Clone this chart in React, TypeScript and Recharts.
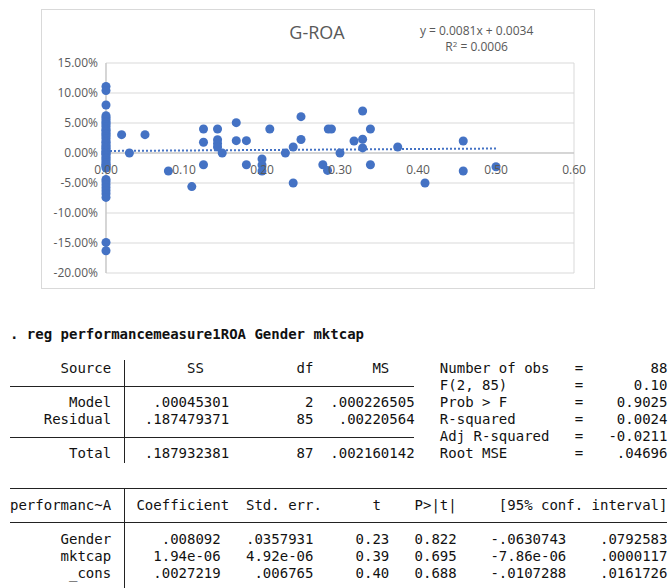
import {
  ScatterChart,
  Scatter,
  XAxis,
  YAxis,
  ZAxis,
  CartesianGrid,
  ReferenceLine,
  ReferenceDot,
} from "recharts";

// ROA (%) of firms with no women on the board (gender share = 0)
const zeroShareRoa = [
  11.1, 10.4, 8.0, 6.2, 5.9, 5.6, 5.2, 5.0, 4.7, 4.4, 4.0, 3.8, 3.5, 3.2, 3.0,
  2.7, 2.4, 2.0, 1.8, 1.5, 1.2, 1.0, 0.8, 0.5, 0.3, 0.0, 0.0, -0.2, -0.5, -0.8,
  -1.0, -1.3, -1.6, -1.9, -2.0, -2.2, -2.5, -4.4, -4.8, -5.3, -5.8, -6.3, -6.8,
  -7.4, -14.9, -16.3,
];

// firms with a non-zero gender share
const genderShare = [
  0.02, 0.03, 0.05, 0.08, 0.11, 0.125, 0.125, 0.125, 0.143, 0.143, 0.143, 0.143,
  0.149, 0.167, 0.167, 0.18, 0.18, 0.2, 0.2, 0.2, 0.21, 0.23, 0.24, 0.24, 0.25,
  0.25, 0.278, 0.284, 0.285, 0.289, 0.3, 0.318, 0.329, 0.329, 0.329, 0.339,
  0.339, 0.374, 0.409, 0.458, 0.458, 0.5,
];
const genderRoa = [
  3.06, 0.0, 3.06, -3.0, -5.6, 4.0, 1.8, -1.95, 4.0, 2.2, 1.6, 1.0, 0.0, 5.06,
  2.06, 2.06, -1.95, -1.0, -2.0, -3.0, 4.0, 0.0, 1.0, -5.0, 6.06, 2.25, -1.95,
  -2.9, 4.0, 4.0, 0.0, 2.0, 2.3, 0.85, 7.0, 4.0, -1.95, 1.0, -5.0, 2.0, -3.0,
  -2.3,
];

const xTicks = [0, 0.1, 0.2, 0.3, 0.4, 0.5, 0.6];
const yTicks = [0.15, 0.1, 0.05, 0, -0.05, -0.1, -0.15, -0.2];

const trendSlope = 0.0081;
const trendIntercept = 0.0034;
const trendR2 = "0.0006";

// Stata output
const anovaSources = ["Model", "Residual", "Total"];
const anovaSS = [".00045301", ".187479371", ".187932381"];
const anovaDf = ["2", "85", "87"];
const anovaMS = [".000226505", ".00220564", ".002160142"];
const fitLabels = ["Number of obs", "F(2, 85)", "Prob > F", "R-squared", "Adj R-squared", "Root MSE"];
const fitValues = ["88", "0.10", "0.9025", "0.0024", "-0.0211", ".04696"];
const coefVars = ["Gender", "mktcap", "_cons"];
const coefs = [".008092", "1.94e-06", ".0027219"];
const stdErrs = [".0357931", "4.92e-06", ".006765"];
const tStats = ["0.23", "0.39", "0.40"];
const pValues = ["0.822", "0.695", "0.688"];
const ciLow = ["-.0630743", "-7.86e-06", "-.0107288"];
const ciHigh = [".0792583", ".0000117", ".0161726"];

const points = [
  ...zeroShareRoa.map((r) => ({ x: 0, y: r / 100 })),
  ...genderShare.map((g, i) => ({ x: g, y: genderRoa[i] / 100 })),
];
const trendEnd = Math.max(...genderShare);

const BLUE = "#4472C4";
const GREY = "#595959";

const pad = (s: string, n: number) => s.padStart(n);
const fit = (i: number) => "   " + fitLabels[i].padEnd(16) + "=" + pad(fitValues[i], 10);
const blank48 = " ".repeat(48);

const stataRows: [number, string][] = [
  [2, "      Source         SS           df       MS   " + fit(0)],
  [3, blank48 + fit(1)],
  [4, pad(anovaSources[0], 12) + "  " + pad(anovaSS[0], 12) + pad(anovaDf[0], 10) + pad(anovaMS[0], 12) + fit(2)],
  [5, pad(anovaSources[1], 12) + "  " + pad(anovaSS[1], 12) + pad(anovaDf[1], 10) + pad(anovaMS[1], 12) + fit(3)],
  [6, blank48 + fit(4)],
  [7, pad(anovaSources[2], 12) + "  " + pad(anovaSS[2], 12) + pad(anovaDf[2], 10) + pad(anovaMS[2], 12) + fit(5)],
  [10, "performanc~A   Coefficient  Std. err.      t    P>|t|     [95% conf. interval]"],
  ...coefVars.map(
    (v, i) =>
      [
        12 + i,
        pad(v, 12) + "  " + pad(coefs[i], 11) + pad(stdErrs[i], 11) + pad(tStats[i], 9) +
          pad(pValues[i], 8) + pad(ciLow[i], 13) + pad(ciHigh[i], 12),
      ] as [number, string]
  ),
];

const ROW0 = 334.3;
const LH = 17.1;
const X0 = 10;
const CW = 8.42;
const rowY = (n: number) => ROW0 + n * LH;
const barX = X0 + 13.5 * CW;

const equation = `y = ${trendSlope}x + ${trendIntercept}`;

const eqStyle = {
  position: "absolute" as const,
  left: 396.6,
  width: 160,
  textAlign: "center" as const,
  fontFamily: "'Open Sans'",
  fontSize: 12,
  lineHeight: "16.5px",
  color: GREY,
};

const App = () => {
  return (
    <div
      style={{
        position: "absolute",
        left: 0,
        top: 0,
        width: 669,
        height: 588,
        background: "#fff",
        overflow: "hidden",
      }}
    >
      <div
        style={{
          position: "absolute",
          left: 41,
          top: 9,
          width: 554,
          height: 280,
          fontFamily: "'Open Sans'",
        }}
      >
        <ScatterChart
          width={554}
          height={280}
          margin={{ top: 54, right: 21, bottom: 16, left: 0 }}
          style={{ fontFamily: "'Open Sans'" }}
        >
          <CartesianGrid stroke="#d9d9d9" />
          <XAxis
            type="number"
            dataKey="x"
            domain={[0, 0.6]}
            ticks={xTicks}
            tick={false}
            tickLine={false}
            axisLine={false}
            height={0}
          />
          <YAxis
            type="number"
            dataKey="y"
            domain={[-0.2, 0.15]}
            ticks={yTicks}
            interval={0}
            width={65}
            tickLine={false}
            axisLine={{ stroke: "#bfbfbf" }}
            tick={{ fill: GREY, fontSize: 12 }}
            tickFormatter={(v: number) => (v * 100).toFixed(2) + "%"}
          />
          <ZAxis range={[58, 58]} />
          <ReferenceLine y={0} stroke="#bfbfbf" />
          {xTicks.map((t) => (
            <ReferenceDot
              key={t}
              x={t}
              y={0}
              r={1}
              fill="none"
              stroke="none"
              label={{ value: t.toFixed(2), position: "bottom", offset: 11, fill: GREY, fontSize: 12 }}
            />
          ))}
          <ReferenceLine
            segment={[
              { x: 0, y: trendIntercept },
              { x: trendEnd, y: trendIntercept + trendSlope * trendEnd },
            ]}
            stroke={BLUE}
            strokeWidth={2}
            strokeDasharray="2 2"
          />
          <Scatter data={points} fill={BLUE} isAnimationActive={false} />
        </ScatterChart>
      </div>
      <div
        style={{
          position: "absolute",
          left: 41,
          top: 9,
          width: 554,
          height: 280,
          border: "1px solid #d9d9d9",
          boxSizing: "border-box",
          pointerEvents: "none",
        }}
      />
      <div
        style={{
          position: "absolute",
          left: 257,
          top: 21.7,
          width: 120,
          textAlign: "center",
          fontFamily: "'Open Sans'",
          fontSize: 18,
          lineHeight: "20px",
          color: GREY,
        }}
      >
        G-ROA
      </div>
      <div style={{ ...eqStyle, top: 22.6 }}>{equation}</div>
      <div style={{ ...eqStyle, top: 39.4 }}>
        R<span style={{ fontSize: 8, position: "relative", top: -4 }}>2</span>
        {` = ${trendR2}`}
      </div>

      <div
        style={{
          position: "absolute",
          left: X0,
          top: rowY(0) - LH / 2,
          fontFamily: "'DejaVu Sans Mono'",
          fontSize: 14,
          lineHeight: LH + "px",
          whiteSpace: "pre",
          fontWeight: "bold",
          color: "#111",
        }}
      >
        . reg performancemeasure1ROA Gender mktcap
      </div>
      {stataRows.map(([n, s]) => (
        <div
          key={n}
          style={{
            position: "absolute",
            left: X0,
            top: rowY(n) - LH / 2,
            fontFamily: "'DejaVu Sans Mono'",
            fontSize: 14,
            lineHeight: LH + "px",
            whiteSpace: "pre",
            color: "#111",
          }}
        >
          {s}
        </div>
      ))}
      {/* table rules */}
      {[3, 6].map((n) => (
        <div
          key={"h" + n}
          style={{ position: "absolute", left: X0, top: rowY(n), width: 48 * CW, height: 1, background: "#222" }}
        />
      ))}
      {[9, 11, 15].map((n) => (
        <div
          key={"h" + n}
          style={{ position: "absolute", left: X0, top: rowY(n), width: 78 * CW, height: 1, background: "#222" }}
        />
      ))}
      <div
        style={{
          position: "absolute",
          left: barX,
          top: rowY(2) - LH / 2,
          width: 1,
          height: 6 * LH,
          background: "#222",
        }}
      />
      <div
        style={{
          position: "absolute",
          left: barX,
          top: rowY(9),
          width: 1,
          height: 6 * LH,
          background: "#222",
        }}
      />
    </div>
  );
};

export default App;
